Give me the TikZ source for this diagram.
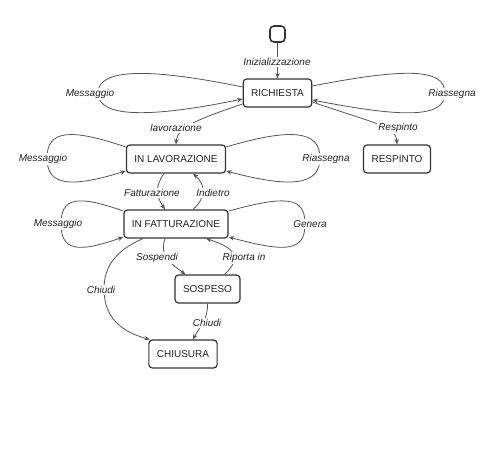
\documentclass[tikz,border=0pt]{standalone}
\usepackage{fontspec}
\setmainfont{Liberation Sans}
\usetikzlibrary{arrows.meta}
\definecolor{boxc}{HTML}{333333}
\definecolor{linec}{HTML}{555555}
\definecolor{txtc}{HTML}{222222}
\tikzset{
  state/.style={draw=boxc, line width=1.2pt, rounded corners=3.5pt, fill=white,
    minimum height=28pt, inner xsep=8pt, inner ysep=0pt, font=\fontsize{10}{12}\selectfont, text=txtc},
  startst/.style={draw=boxc, line width=1.6pt, rounded corners=4pt, fill=white,
    minimum width=15pt, minimum height=16pt, inner sep=0pt},
  edge/.style={draw=linec, line width=0.8pt},
  arr/.style={edge, -{Stealth[length=5.5pt,width=4.5pt]}},
  lbl/.style={fill=white, inner sep=1.5pt, yshift=-1.2pt, font=\fontsize{10}{12}\selectfont\itshape, text=txtc}
}
\begin{document}
\begin{tikzpicture}[x=1pt,y=-1pt]
\useasboundingbox (0,0) rectangle (503,454);

% states
\node[startst] (start) at (277.5,34) {};
\node[state] (rich) at (277.5,93) {RICHIESTA};
\node[state] (lav) at (176,159) {IN LAVORAZIONE};
\node[state] (resp) at (397,159) {RESPINTO};
\node[state] (fat) at (176,224) {IN FATTURAZIONE};
\node[state] (sos) at (207.5,289) {SOSPESO};
\node[state] (chi) at (183,354) {CHIUSURA};

% edges
\draw[arr] (start.south) -- (rich.north);
% RICHIESTA loops
\draw[arr] ([yshift=6pt]rich.west) .. controls (150,68) and (98,68) .. (98,93)
  .. controls (98,118) and (150,118) .. ([yshift=-6pt]rich.west);
\draw[arr] ([yshift=7pt]rich.east) .. controls (405,68) and (445,68) .. (445,93)
  .. controls (445,118) and (405,118) .. ([yshift=-7pt]rich.east);
% RICHIESTA -> IN LAVORAZIONE
\draw[arr] ([yshift=-11pt]rich.west) .. controls (195,120) and (177,128) .. (lav.north);
% RICHIESTA -> RESPINTO
\draw[arr] ([yshift=-9pt]rich.east) .. controls (370,122) and (396,126) .. (resp.north);
% IN LAVORAZIONE loops
\draw[arr] ([yshift=12pt]lav.west) .. controls (70,128) and (47,130) .. (47,158)
  .. controls (47,186) and (70,188) .. ([yshift=-12pt]lav.west);
\draw[arr] ([yshift=12pt]lav.east) .. controls (290,128) and (320,130) .. (320,158)
  .. controls (320,186) and (290,188) .. ([yshift=-12pt]lav.east);
% Fatturazione / Indietro
\draw[arr] ([xshift=-12pt]lav.south) .. controls (155,186) and (156,196) .. ([xshift=-11pt]fat.north);
\draw[arr] ([xshift=17pt]fat.north) .. controls (206,198) and (206,185) .. ([xshift=17pt]lav.south);
% IN FATTURAZIONE loops
\draw[arr] ([yshift=13pt]fat.west) .. controls (78,195) and (61,197) .. (61,224)
  .. controls (61,251) and (78,253) .. ([yshift=-13pt]fat.west);
\draw[arr] ([yshift=13pt]fat.east) .. controls (287,195) and (305,197) .. (305,224)
  .. controls (305,251) and (287,253) .. ([yshift=-13pt]fat.east);
% Sospendi / Riporta in
\draw[arr] ([xshift=-11pt]fat.south) .. controls (159,255) and (170,263) .. ([xshift=-22pt]sos.north);
\draw[arr] ([xshift=17pt]sos.north) .. controls (242,258) and (236,248) .. ([xshift=30pt]fat.south);
% Chiudi
\draw[arr] ([xshift=-33pt]fat.south) .. controls (112,252) and (104,270) .. (104,289)
  .. controls (104,318) and (122,332) .. ([xshift=1.5pt]chi.north west);
\draw[arr] (sos.south) .. controls (208,320) and (200,326) .. ([xshift=10pt]chi.north);

% labels
\node[lbl] (l0) at (277,61) {Inizializzazione};
\node[lbl] (l1) at (90,93) {Messaggio};
\node[lbl] (l2) at (452,93) {Riassegna};
\node[lbl] (l3) at (176,127) {lavorazione};
\node[lbl] (l4) at (398,127) {Respinto};
\node[lbl] (l5) at (43,158) {Messaggio};
\node[lbl] (l6) at (326,158) {Riassegna};
\node[lbl] (l7) at (152,192) {Fatturazione};
\node[lbl] (l8) at (213,192) {Indietro};
\node[lbl] (l9) at (58,223) {Messaggio};
\node[lbl] (l10) at (310,223) {Genera};
\node[lbl] (l11) at (157,257) {Sospendi};
\node[lbl] (l12) at (244,257) {Riporta in};
\node[lbl] (l13) at (101,289) {Chiudi};
\node[lbl] (l14) at (207,322) {Chiudi};
\end{tikzpicture}
\end{document}
